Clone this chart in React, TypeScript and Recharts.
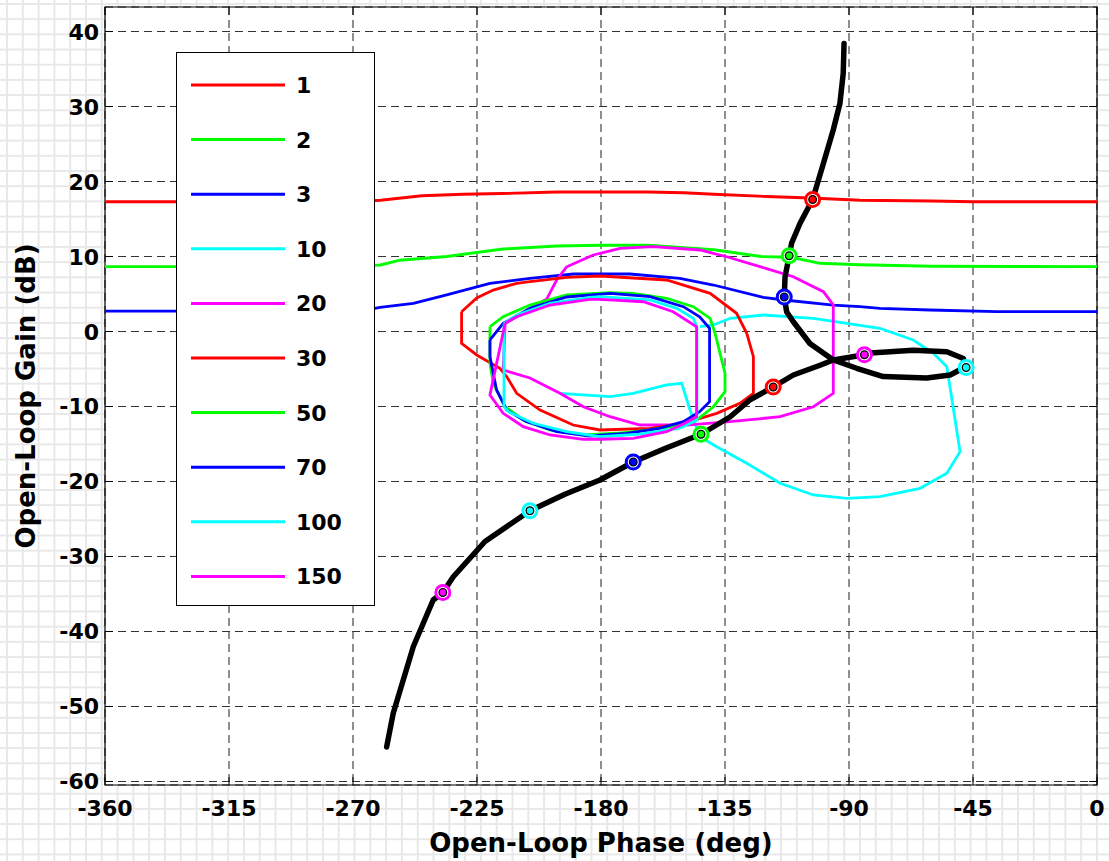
import {
  ComposedChart,
  Line,
  Scatter,
  XAxis,
  YAxis,
  CartesianGrid,
  ReferenceArea,
} from "recharts";

// frequencies shown in the legend, one bound per frequency
const freqLabels = ["1", "2", "3", "10", "20", "30", "50", "70", "100", "150"];
const seriesColors = ["#ff0000", "#00ff00", "#0000ff", "#00ffff", "#ff00ff", "#ff0000", "#00ff00", "#0000ff", "#00ffff", "#ff00ff"];

const phaseTicks = [-360, -315, -270, -225, -180, -135, -90, -45, 0];
const gainTicks = [-60, -50, -40, -30, -20, -10, 0, 10, 20, 30, 40];

const pts = (a: number[][]) => a.map(([x, y]) => ({ x, y }));

const bound1 = pts([
  [-360, 17.3], [-300, 17.3], [-270, 17.3], [-260, 17.5], [-245, 18.1], [-230, 18.3], [-216, 18.4],
  [-196, 18.6], [-180, 18.6], [-163, 18.6], [-150, 18.5], [-139, 18.3], [-120, 18.0], [-104, 17.8],
  [-86, 17.5], [-60, 17.4], [-45, 17.3], [0, 17.3],
]);
const bound2 = pts([
  [-360, 8.64], [-290, 8.64], [-270, 8.8], [-260, 8.87], [-253, 9.5], [-236, 10.0], [-215.5, 11.0],
  [-196, 11.4], [-180, 11.5], [-163, 11.5], [-139, 10.9], [-122, 10.0], [-111, 9.9], [-100.5, 9.1],
  [-86, 8.9], [-60, 8.7], [0, 8.64],
]);
const bound3 = pts([
  [-360, 2.73], [-270, 2.73], [-265, 2.9], [-260.2, 3.23], [-248.1, 3.76], [-236, 4.87], [-220.3, 6.43],
  [-205.8, 7.09], [-190, 7.67], [-169.5, 7.67], [-151.4, 7.09], [-139.2, 6.2], [-121.1, 4.55],
  [-113.5, 4.2], [-95.7, 3.53], [-86, 3.31], [-78.8, 3.09], [-60.6, 2.87], [-36.4, 2.64], [0, 2.64],
]);
const bound10 = pts([
  [-194.9, -8.24], [-176.7, -8.69], [-168.3, -8.24], [-156.2, -7.13], [-150.7, -6.91], [-147.7, -10.47],
  [-144.1, -14.03], [-138.0, -15.36], [-127.1, -17.57], [-115.0, -20.24], [-102.9, -21.8], [-90.8, -22.24],
  [-78.8, -22.03], [-64.2, -20.91], [-54.5, -18.91], [-49.7, -16.03], [-54.5, -4.69], [-59.4, -2.91],
  [-66.7, -1.13], [-78.8, 0.43], [-90.8, 1.09], [-102.9, 1.76], [-121.1, 2.2], [-133.1, 1.76],
  [-139.2, 0.87], [-144.1, 0.64],
]);
const bound20 = pts([
  [-192.4, 8.64], [-182.8, 10.2], [-173.1, 11.09], [-161.0, 11.31], [-144.1, 10.87], [-134.4, 9.97],
  [-122.3, 8.64], [-110.2, 7.31], [-99.3, 5.31], [-95.7, 3.53], [-95.7, -8.24], [-102.9, -10.03],
  [-115.0, -11.36], [-133.2, -12.03], [-148.9, -12.47], [-165.9, -12.47], [-176.7, -11.36],
  [-186.4, -10.03], [-194.9, -8.24], [-205.8, -6.2], [-215.5, -5.13], [-214.8, 1.09], [-210.6, 1.97],
  [-199.7, 4.33], [-196.1, 6.87], [-192.4, 8.64],
]);
const bound30 = pts([
  [-230.6, 2.64], [-230.6, -1.57], [-225.1, -3.13], [-216.7, -4.91], [-214.2, -6.03], [-210.6, -8.24],
  [-202.1, -10.47], [-190.1, -12.47], [-180.4, -13.13], [-162.2, -12.91], [-150.1, -12.24],
  [-138.0, -10.91], [-129.6, -9.57], [-124.7, -8.24], [-124.7, -3.36], [-127.1, -0.24], [-130.8, 2.43],
  [-140.4, 5.09], [-156.2, 6.87], [-180.4, 7.4], [-192.4, 7.23], [-205.8, 6.64], [-210.6, 6.43],
  [-219.1, 5.53], [-225.1, 4.47], [-230.6, 2.64],
]);
const bound50 = pts([
  [-220.3, 0.64], [-215.5, 1.97], [-205.8, 3.53], [-192.4, 4.87], [-176.7, 5.17], [-168.3, 5.09],
  [-156.2, 4.43], [-146.5, 3.31], [-140.4, 1.76], [-138.6, -0.24], [-136.8, -2.91], [-135.0, -5.57],
  [-135.0, -8.03], [-139.2, -10.03], [-145.3, -11.8], [-151.4, -12.47], [-162.2, -13.13],
  [-174.3, -13.57], [-186.4, -13.8], [-198.5, -13.13], [-208.2, -11.8], [-214.8, -10.03],
  [-219.1, -6.91], [-220.3, -4.24], [-220.3, 0.64],
]);
const bound70 = pts([
  [-220.3, -1.13], [-215.5, 1.09], [-205.8, 3.09], [-192.4, 4.6], [-176.7, 5.09], [-162.2, 4.64],
  [-150.1, 3.31], [-144.2, 1.97], [-140.6, 0.43], [-140.6, -9.36], [-144.2, -10.69], [-150.1, -12.03],
  [-158.9, -12.91], [-170.7, -13.57], [-184.0, -13.93], [-196.1, -13.36], [-207.0, -12.03],
  [-214.2, -10.47], [-217.9, -7.8], [-220.3, -3.36], [-220.3, -1.13],
]);
const bound100 = pts([
  [-215.2, 1.09], [-210.6, 2.2], [-198.5, 3.76], [-184.0, 4.56], [-180.4, 4.64], [-162.2, 4.2],
  [-152.5, 3.09], [-146.5, 1.76], [-145.2, 0.64], [-145.2, -11.8], [-151.4, -12.87], [-165.9, -13.67],
  [-180.4, -14.03], [-192.4, -13.36], [-204.6, -12.24], [-213.6, -10.69], [-215.2, -10.03],
  [-215.2, 1.09],
]);
const bound150 = pts([
  [-214.8, 1.09], [-210.6, 1.97], [-198.5, 3.53], [-184.0, 4.29], [-180.4, 4.29], [-164.6, 3.97],
  [-153.8, 2.64], [-145.3, 0.64], [-145.3, -11.36], [-150.1, -12.33], [-156.2, -13.36], [-168.3, -14.24],
  [-180.4, -14.37], [-186.4, -14.37], [-198.5, -13.8], [-208.2, -12.69], [-215.5, -10.91],
  [-220.3, -8.47], [-214.8, 1.09],
]);

const bounds = [bound1, bound2, bound3, bound10, bound20, bound30, bound50, bound70, bound100, bound150];

// open-loop response, ordered by frequency (top to bottom)
const response = pts([
  [-91.8, 38.4], [-92.1, 34.4], [-93.3, 30.4], [-95.7, 26.9], [-99.3, 22.4], [-103.2, 17.6],
  [-107.8, 14.4], [-110.8, 11.8], [-111.7, 10.1], [-113.2, 7.3], [-113.5, 4.6], [-112.6, 2.6],
  [-110.2, 1.3], [-104.2, -1.6], [-95.7, -3.8], [-87.2, -4.9], [-77.6, -6.0], [-61.8, -6.2],
  [-53.3, -5.8], [-49.7, -5.1], [-47.5, -4.8], [-48.5, -3.6], [-54.5, -2.7], [-66.7, -2.5],
  [-83.6, -2.9], [-84.4, -3.1], [-95.7, -3.8], [-100.5, -4.5], [-110.2, -5.8], [-117.5, -7.4],
  [-125.9, -9.1], [-133.2, -11.4], [-143.7, -13.7], [-156.8, -15.6], [-168.3, -17.4], [-180.4, -19.8],
  [-193.1, -21.7], [-205.8, -23.9], [-222.1, -28.0], [-233.6, -32.7], [-237.4, -34.8], [-240.9, -35.8],
  [-248.1, -42.0], [-255.4, -50.9], [-257.8, -55.4],
]);

// response value at each legend frequency
const markerPhase = [-103.2, -111.7, -113.5, -47.5, -84.4, -117.5, -143.7, -168.3, -205.8, -237.4];
const markerGain = [17.6, 10.1, 4.6, -4.8, -3.1, -7.4, -13.7, -17.4, -23.9, -34.8];
const markers = markerPhase.map((x, i) => ({ x, y: markerGain[i], f: freqLabels[i] }));

const W = 1109;
const H = 861;
const L = 105;
const R = 1097;
const T = 7;
const B = 785;
const FONT = "'DejaVu Sans', Verdana, sans-serif";

const XTick = (props: any) => {
  const x = props.payload?.coordinate ?? props.x;
  return (
    <g>
      <line x1={x} x2={x} y1={B} y2={B - 8} stroke="#000" />
      <line x1={x} x2={x} y1={T} y2={T + 8} stroke="#000" />
      <text x={x} y={816} textAnchor="middle" fontFamily={FONT} fontWeight="bold" fontSize={22} fill="#000">
        {props.payload.value}
      </text>
    </g>
  );
};

const YTick = (props: any) => {
  const y = props.payload?.coordinate ?? props.y;
  return (
    <g>
      <line x1={L} x2={L + 8} y1={y} y2={y} stroke="#000" />
      <line x1={R} x2={R - 8} y1={y} y2={y} stroke="#000" />
      <text x={99} y={y + 8} textAnchor="end" fontFamily={FONT} fontWeight="bold" fontSize={22} fill="#000">
        {props.payload.value}
      </text>
    </g>
  );
};

const Marker = (props: any) => {
  const { cx, cy } = props;
  const f = props.payload?.f ?? props.f;
  const c = seriesColors[freqLabels.indexOf(f)];
  if (cx == null || cy == null) return null;
  return (
    <g>
      <circle cx={cx} cy={cy} r={7} fill="#fff" stroke={c} strokeWidth={3} />
      <circle cx={cx} cy={cy} r={3.8} fill={c} stroke="#000" strokeWidth={1.3} />
    </g>
  );
};

function LegendBox() {
  const top = 85;
  const step = 54.6;
  return (
    <svg width={W} height={H} style={{ position: "absolute", left: 0, top: 0, pointerEvents: "none" }}>
      <rect x={176.5} y={52.5} width={198} height={553} fill="#fff" stroke="#000" />
      {freqLabels.map((f, i) => (
        <g key={f}>
          <line x1={191} x2={285} y1={top + i * step} y2={top + i * step} stroke={seriesColors[i]} strokeWidth={3} />
          <text x={296} y={top + i * step + 8} fontFamily={FONT} fontWeight="bold" fontSize={22} fill="#000">
            {f}
          </text>
        </g>
      ))}
    </svg>
  );
}

export default function App() {
  return (
    <div
      style={{
        position: "absolute",
        left: 0,
        top: 0,
        width: W,
        height: H,
        backgroundColor: "#fff",
        backgroundImage:
          "linear-gradient(to right, #e8e8e8 1.5px, transparent 1.5px), linear-gradient(to bottom, #e8e8e8 1.5px, transparent 1.5px)",
        backgroundSize: "15.8px 15.2px",
        backgroundPosition: "6px 3px",
      }}
    >
      <ComposedChart width={W} height={H} margin={{ top: T, right: W - R, left: 0, bottom: 0 }}>
        <CartesianGrid stroke="#333" strokeWidth={1.1} strokeDasharray="8 5" fill="#fff" fillOpacity={1} />
        <XAxis
          type="number"
          dataKey="x"
          domain={[-360, 0]}
          ticks={phaseTicks}
          allowDataOverflow
          height={H - B}
          axisLine={false}
          tickLine={false}
          tick={XTick}
          interval={0}
        />
        <YAxis
          type="number"
          dataKey="y"
          domain={[-60.47, 43.27]}
          ticks={gainTicks}
          allowDataOverflow
          width={L}
          axisLine={false}
          tickLine={false}
          tick={YTick}
          interval={0}
        />
        {bounds.map((d, i) => (
          <Line
            key={freqLabels[i]}
            data={d}
            dataKey="y"
            type="linear"
            stroke={seriesColors[i]}
            strokeWidth={2.8}
            dot={false}
            activeDot={false}
            isAnimationActive={false}
          />
        ))}
        <Line
          data={response}
          dataKey="y"
          type="linear"
          stroke="#000"
          strokeWidth={5.5}
          strokeLinecap="round"
          strokeLinejoin="round"
          dot={false}
          activeDot={false}
          isAnimationActive={false}
        />
        <Scatter data={markers} dataKey="y" shape={Marker} isAnimationActive={false} />
        <ReferenceArea x1={-360} x2={0} y1={-60.47} y2={43.27} fill="none" stroke="#000" strokeWidth={1.2} ifOverflow="visible" />
      </ComposedChart>
      <LegendBox />
      <svg width={W} height={H} style={{ position: "absolute", left: 0, top: 0, pointerEvents: "none" }}>
        <text x={(L + R) / 2} y={852} textAnchor="middle" fontFamily={FONT} fontWeight="bold" fontSize={26} fill="#000">
          Open-Loop Phase (deg)
        </text>
        <text
          x={35}
          y={(T + B) / 2}
          textAnchor="middle"
          transform={`rotate(-90 35 ${(T + B) / 2})`}
          fontFamily={FONT}
          fontWeight="bold"
          fontSize={26}
          fill="#000"
        >
          Open-Loop Gain (dB)
        </text>
      </svg>
    </div>
  );
}
